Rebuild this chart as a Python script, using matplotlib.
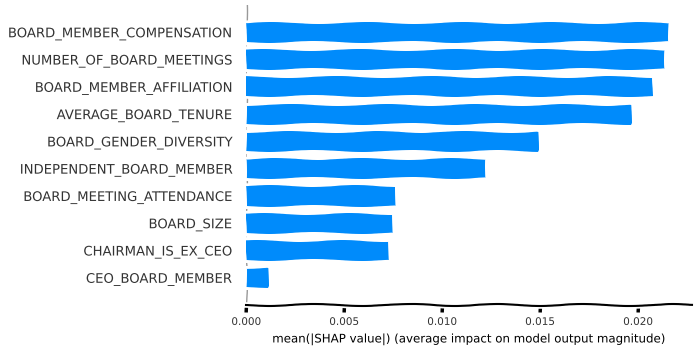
import numpy as np
import matplotlib
matplotlib.use("Agg")
import matplotlib.pyplot as plt

# mean |SHAP| per feature, ordered from smallest (bottom) to largest (top)
features = [
    "CEO_BOARD_MEMBER",
    "CHAIRMAN_IS_EX_CEO",
    "BOARD_SIZE",
    "BOARD_MEETING_ATTENDANCE",
    "INDEPENDENT_BOARD_MEMBER",
    "BOARD_GENDER_DIVERSITY",
    "AVERAGE_BOARD_TENURE",
    "BOARD_MEMBER_AFFILIATION",
    "NUMBER_OF_BOARD_MEETINGS",
    "BOARD_MEMBER_COMPENSATION",
]
mean_shap = [0.00112, 0.0073, 0.0075, 0.00765, 0.01224,
             0.0149, 0.01964, 0.02077, 0.02138, 0.02158]
xticks = [0.0, 0.005, 0.010, 0.015, 0.020]

with plt.xkcd():
    plt.rcParams['font.family'] = ['DejaVu Sans']
    fig = plt.figure(figsize=(6.99, 3.56), dpi=100)
    ax = fig.add_axes([0.352, 0.143, 0.638, 0.843])

    pos = np.arange(len(features))
    ax.axvline(0, 0, 1, color="#999999", linestyle="-", linewidth=1, zorder=-1)
    ax.barh(pos, mean_shap, 0.7, align="center", color="#008bfb", zorder=2)

    ax.set_yticks(pos)
    ax.set_yticklabels(features, fontsize=9.5, color="#333333")
    ax.tick_params(axis="y", length=0, pad=10)
    ax.set_ylim(-1, len(features))
    ax.set_xlim(0, 0.02276)
    ax.set_xticks(xticks)
    ax.set_xticklabels(["%.3f" % t for t in xticks], fontsize=7.5, color="#333333")
    ax.tick_params(axis="x", length=5, width=2.5, labelsize=7.5)
    ax.set_xlabel("mean(|SHAP value|) (average impact on model output magnitude)", fontsize=8.5)

    for s in ["top", "right", "left"]:
        ax.spines[s].set_visible(False)
    ax.spines["bottom"].set_linewidth(1.5)

    fig.savefig("out.png", dpi=100)
